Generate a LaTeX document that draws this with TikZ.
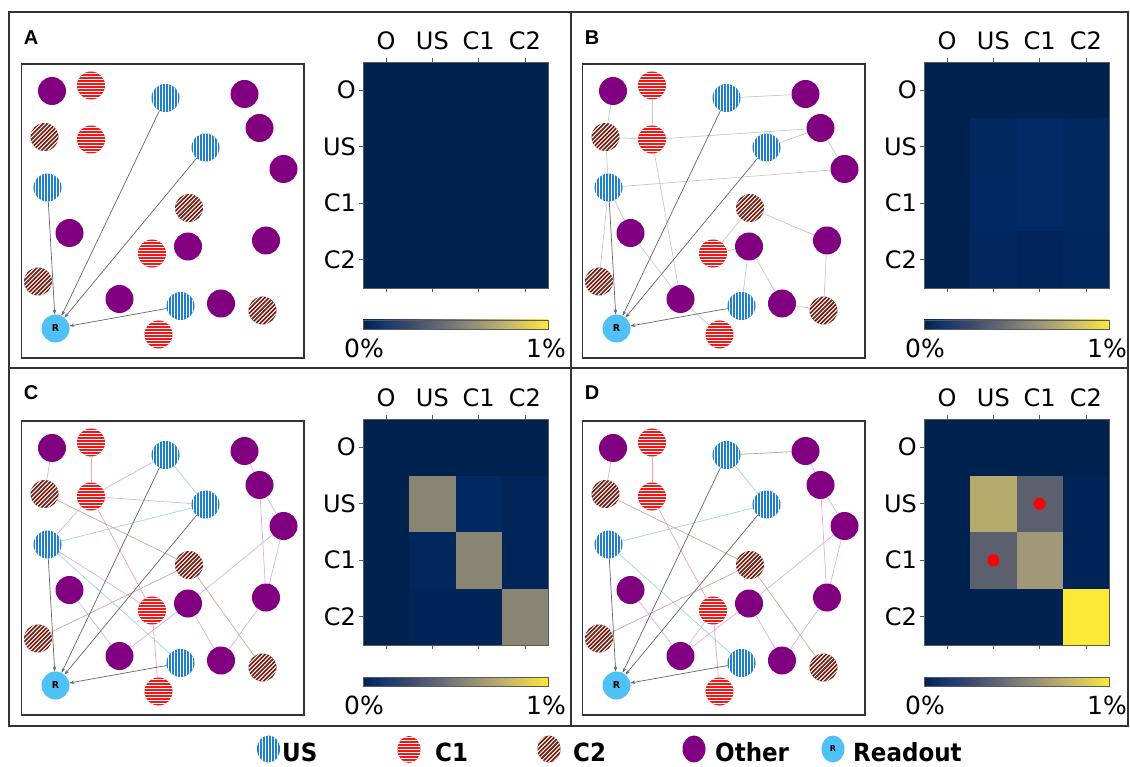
\documentclass[tikz,border=0pt]{standalone}
\usepackage{fontspec}
\setmainfont{DejaVu Sans}
\newfontfamily\panelfont{Liberation Sans}
\newfontfamily\legendfont{DejaVu Sans}[FakeStretch=0.92]
\usetikzlibrary{arrows.meta,shapes.geometric}

% node colours
\definecolor{othc}{HTML}{800080}
\definecolor{c1c}{HTML}{F21818}
\definecolor{usc}{HTML}{1F80CC}
\definecolor{c2c}{HTML}{741A0C}
\definecolor{rdc}{HTML}{4FC1F7}
\definecolor{framec}{HTML}{333333}
\definecolor{arrc}{HTML}{666666}
% edge colours
\definecolor{eviol}{HTML}{DDAEE8}
\definecolor{epink}{HTML}{F5A3AA}
\definecolor{eblue}{HTML}{9DD2EE}
\definecolor{ebrown}{HTML}{CFA7A0}
\definecolor{egray}{HTML}{C8C8C8}
\definecolor{egrayd}{HTML}{A8A8A8}
% cividis colour map
\definecolor{cv0}{HTML}{00224E}
\definecolor{cv1}{HTML}{123570}
\definecolor{cv2}{HTML}{3B496C}
\definecolor{cv3}{HTML}{7C7B78}
\definecolor{cv4}{HTML}{BCAF6F}
\definecolor{cv5}{HTML}{FEE838}
\pgfdeclarehorizontalshading{cividis}{100bp}{color(0bp)=(cv0); color(25bp)=(cv0); color(30bp)=(cv1); color(37.5bp)=(cv2); color(50bp)=(cv3); color(62.5bp)=(cv4); color(75bp)=(cv5); color(100bp)=(cv5)}

\tikzset{
  vstripes/.style={path picture={
    \foreach \k in {-15,-12,...,15}
      \draw[white, line width=1.1pt] ([xshift={\k*1pt}, yshift=-20pt]path picture bounding box.center) -- ([xshift={\k*1pt}, yshift=20pt]path picture bounding box.center);}},
  hstripes/.style={path picture={
    \foreach \k in {-15,-12,...,15}
      \draw[white, line width=1.1pt] ([yshift={\k*1pt}, xshift=-20pt]path picture bounding box.center) -- ([yshift={\k*1pt}, xshift=20pt]path picture bounding box.center);}},
  dstripes/.style={path picture={
    \foreach \k in {-33.6,-29.4,...,33.6}
      \draw[white, line width=1.0pt] ([xshift={\k*1pt-20pt}, yshift=-20pt]path picture bounding box.center) -- ([xshift={\k*1pt+20pt}, yshift=20pt]path picture bounding box.center);}},
  nd/.style={circle, minimum size=28pt, inner sep=0pt, outer sep=0pt},
  oth/.style={nd, fill=othc},
  usn/.style={nd, fill=usc, vstripes},
  cone/.style={nd, fill=c1c, hstripes},
  ctwo/.style={nd, fill=c2c, dstripes},
  rdn/.style={nd, fill=rdc, font=\bfseries\fontsize{9.5}{10}\selectfont},
  arr/.style={draw=arrc, line width=0.7pt, -{Stealth[length=5pt,width=3.5pt]}},
  eg/.style={draw=egray, line width=0.7pt},
  egd/.style={draw=egrayd, line width=0.7pt},
  ev/.style={draw=eviol, line width=0.7pt},
  ep/.style={draw=epink, line width=0.7pt},
  eb/.style={draw=eblue, line width=0.7pt},
  ebr/.style={draw=ebrown, line width=0.7pt},
  gbox/.style={draw=framec, line width=1.1pt},
  hmframe/.style={draw=gray!70!black, line width=0.6pt},
  tickl/.style={font=\fontsize{24}{28}\selectfont, inner sep=0pt},
  cbl/.style={font=\fontsize{25}{29}\selectfont, inner sep=0pt},
  plab/.style={font=\panelfont\bfseries\fontsize{20}{22}\selectfont, inner sep=0pt},
  legtxt/.style={font=\legendfont\bfseries\fontsize{25}{29}\selectfont, anchor=base west, inner sep=0pt},
  legic/.style={ellipse, minimum width=23pt, minimum height=27pt, inner sep=0pt},
}

% the network: 21 coloured units plus the readout unit
\newcommand\netnodes[1]{%
  \node[gbox, minimum width=282.3pt, minimum height=294pt, inner sep=0pt] (#1box) at (162.85,211) {};
  \node[oth]  (#1n1)  at (52,91) {};
  \node[cone] (#1n2)  at (91,85.5) {};
  \node[usn]  (#1n3)  at (165.5,98) {};
  \node[oth]  (#1n4)  at (244.5,94) {};
  \node[ctwo] (#1n5)  at (44.5,137) {};
  \node[cone] (#1n6)  at (91,139.5) {};
  \node[oth]  (#1n7)  at (259.5,128) {};
  \node[usn]  (#1n8)  at (205.5,147.5) {};
  \node[oth]  (#1n9)  at (283.5,169) {};
  \node[usn]  (#1n10) at (47.5,187.5) {};
  \node[ctwo] (#1n11) at (189,208) {};
  \node[oth]  (#1n12) at (69.5,233) {};
  \node[cone] (#1n13) at (152,253.5) {};
  \node[oth]  (#1n14) at (188,246.5) {};
  \node[oth]  (#1n15) at (266,240.5) {};
  \node[ctwo] (#1n16) at (38,281.5) {};
  \node[oth]  (#1n17) at (119.5,299) {};
  \node[usn]  (#1n18) at (180.5,306) {};
  \node[oth]  (#1n19) at (221,303.5) {};
  \node[ctwo] (#1n20) at (262.5,310.5) {};
  \node[rdn]  (#1R)   at (55.5,328.5) {R};
  \node[cone] (#1n21) at (158.5,334.5) {};
}
% readout connections from the US units
\newcommand\readout[1]{%
  \foreach \s in {n3,n8,n10,n18} \draw[arr] (#1\s) -- (#1R);
}
% one cell of a heat map: column, row, hex colour
\newcommand\hmcell[3]{\definecolor{cellc}{HTML}{#3}\fill[cellc] ({363+46.25*#1},{62+56.5*#2}) rectangle ++(46.25,56.5);}
% heat map frame, axis labels and colour bar
\newcommand\heatframe[1]{%
  \draw[hmframe] (363,62) rectangle (548,288);
  \foreach \i in {0,1,2,3} {
    \draw[hmframe] ({386.1+46.25*\i},62) -- ++(0,-4);
    \draw[hmframe] ({386.1+46.25*\i},288) -- ++(0,4);
    \draw[hmframe] (363,{90.25+56.5*\i}) -- ++(-4,0);
  }
  \foreach \t [count=\i from 0] in {O,US,C1,C2} {
    \node[tickl] (#1top\i) at ({386.1+46.25*\i},41) {\t};
    \node[tickl, anchor=east] (#1left\i) at (356,{90.25+56.5*\i}) {\t};
  }
  \shade[shading=cividis] (363,320) rectangle (548,329);
  \draw[hmframe] (363,320) rectangle (548,329);
  \node[cbl] (#1cb0) at (364,348) {0\%};
  \node[cbl] (#1cb1) at (546,348) {1\%};
}

\begin{document}
\begin{tikzpicture}[x=1pt, y=-1pt]
\useasboundingbox (0,0) rectangle (1130,767);

% panel frames
\draw[framec, line width=1.3pt] (9,12) rectangle (1128,726);
\draw[framec, line width=1.3pt] (571,12) -- (571,726);
\draw[framec, line width=1.3pt] (9,368) -- (1128,368);

% ---------- A ----------
\begin{scope}
  \node[plab] (labA) at (31,38) {A};
  \netnodes{a}
  \readout{a}
  \fill[cv0] (363,62) rectangle (548,288);
  \heatframe{a}
\end{scope}

% ---------- B ----------
\begin{scope}[shift={(561,0)}]
  \node[plab] (labB) at (31,38) {B};
  \netnodes{b}
  \foreach \u/\v in {n1/n5,n2/n6,n5/n6,n6/n7,n3/n4,n8/n7,n7/n9,n10/n9,n5/n10,n10/n16,
                     n10/n12,n12/n17,n6/n17,n17/n21,n11/n13,n11/n15,n13/n14,n14/n18,
                     n14/n19,n19/n20,n15/n20}
    \draw[eg] (b\u) -- (b\v);
  \readout{b}
  \fill[cv0] (363,62) rectangle (548,288);
  \hmcell{1}{1}{01285F}
  \hmcell{2}{1}{022B66}
  \hmcell{3}{1}{01285F}
  \hmcell{1}{2}{012861}
  \hmcell{2}{2}{022A64}
  \hmcell{3}{2}{01285F}
  \hmcell{1}{3}{01275E}
  \hmcell{2}{3}{01255A}
  \hmcell{3}{3}{01275F}
  \heatframe{b}
\end{scope}

% ---------- C ----------
\begin{scope}[shift={(0,357)}]
  \node[plab] (labC) at (31,36) {C};
  \netnodes{c}
  \foreach \u/\v in {n12/n17,n17/n14,n14/n9,n14/n19,n4/n7,n7/n15,n7/n9,n9/n15,n15/n19,
                     n6/n3,n6/n8,n6/n10,n10/n13,n1/n5}
    \draw[ev] (c\u) -- (c\v);
  \foreach \u/\v in {n2/n6,n6/n13,n13/n21} \draw[ep] (c\u) -- (c\v);
  \foreach \u/\v in {n3/n8,n10/n8,n10/n18} \draw[eb] (c\u) -- (c\v);
  \foreach \u/\v in {n5/n11,n11/n16,n11/n20} \draw[ebr] (c\u) -- (c\v);
  \readout{c}
  \fill[cv0] (363,62) rectangle (548,288);
  \hmcell{1}{1}{888572}
  \hmcell{2}{2}{888572}
  \hmcell{3}{3}{888572}
  \hmcell{2}{1}{022A62}
  \hmcell{1}{2}{01275D}
  \hmcell{3}{1}{012558}
  \hmcell{3}{2}{012558}
  \hmcell{1}{3}{012456}
  \hmcell{2}{3}{012456}
  \heatframe{c}
\end{scope}

% ---------- D ----------
\begin{scope}[shift={(561,357)}]
  \node[plab] (labD) at (31,36) {D};
  \netnodes{d}
  \foreach \u/\v in {n12/n17,n17/n14,n14/n9,n14/n19,n4/n7,n7/n15,n7/n9,n9/n15,n15/n19}
    \draw[ev] (d\u) -- (d\v);
  \foreach \u/\v in {n2/n6,n6/n13,n13/n21} \draw[ep] (d\u) -- (d\v);
  \foreach \u/\v in {n3/n8,n8/n10,n10/n18} \draw[eb] (d\u) -- (d\v);
  \foreach \u/\v in {n5/n11,n11/n16,n11/n20} \draw[ebr] (d\u) -- (d\v);
  \foreach \u/\v in {n1/n5,n13/n17} \draw[eg] (d\u) -- (d\v);
  \draw[egd] (dn3) -- (dn4);
  \readout{d}
  \fill[cv0] (363,62) rectangle (548,288);
  \hmcell{1}{1}{B5A96C}
  \hmcell{2}{1}{5B5F6E}
  \hmcell{1}{2}{5B5F6E}
  \hmcell{2}{2}{A09878}
  \hmcell{3}{3}{FDE838}
  \hmcell{3}{1}{012456}
  \hmcell{3}{2}{012456}
  \fill[red] (478.6,146.75) circle (6);
  \fill[red] (432.4,203.25) circle (6);
  \heatframe{d}
\end{scope}

% ---------- legend ----------
\node[legic, fill=usc, vstripes] (lgUS) at (268.5,749) {};
\node[legtxt] (lgUSt) at (282,761) {US};
\node[legic, fill=c1c, hstripes] (lgC1) at (409,749.5) {};
\node[legtxt] (lgC1t) at (435,761) {C1};
\node[legic, fill=c2c, dstripes] (lgC2) at (549,749) {};
\node[legtxt] (lgC2t) at (573,761) {C2};
\node[legic, fill=othc] (lgO) at (694,749) {};
\node[legtxt] (lgOt) at (715,761) {Other};
\node[legic, fill=rdc, font=\bfseries\fontsize{8}{9}\selectfont] (lgR) at (833,749) {R};
\node[legtxt] (lgRt) at (853,761) {Readout};
\end{tikzpicture}
\end{document}
